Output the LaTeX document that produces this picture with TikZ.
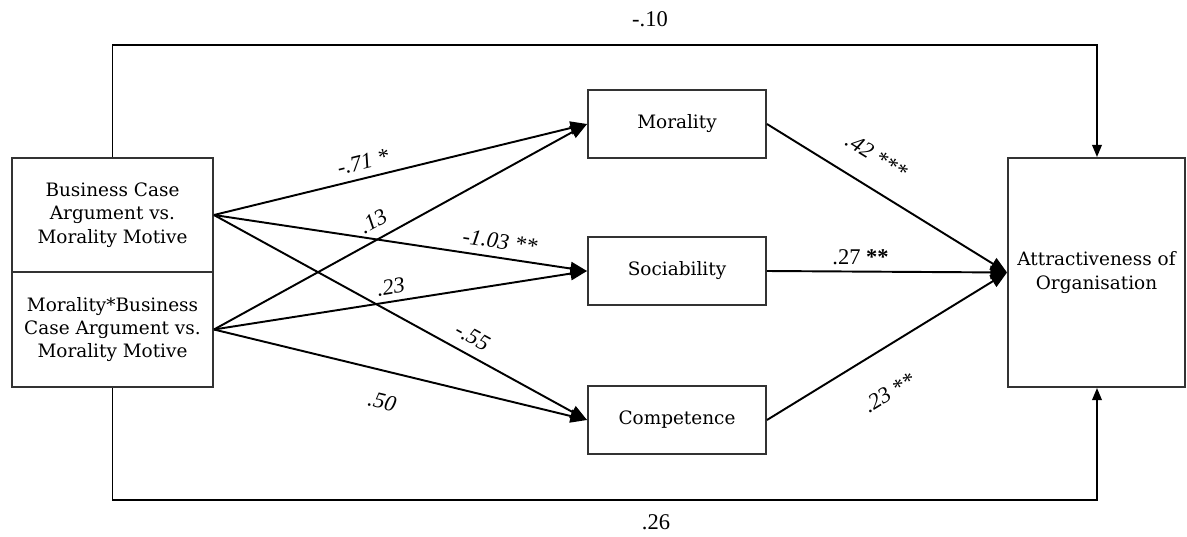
\documentclass[tikz,border=0pt]{standalone}
\usepackage{fontspec}
\setmainfont{Liberation Serif}
\newfontfamily\boxfont{DejaVu Serif}
\usetikzlibrary{arrows.meta}

\begin{document}
\begin{tikzpicture}[x=0.02cm, y=-0.02cm,
  var/.style={draw=black!80, line width=1.1pt, align=center, inner sep=0pt,
    font=\boxfont\fontsize{10.5}{13.3}\selectfont},
  coef/.style={font=\itshape\fontsize{12.8}{14}\selectfont, sloped},
  plain/.style={font=\fontsize{12.8}{14}\selectfont},
  >={Triangle[length=9.5pt,width=7.5pt]}]
\useasboundingbox (0,0) rectangle (1187,537);
% variables
\node[var, minimum width=4.02cm, minimum height=2.28cm] (bc) at (112.5,215)
  {Business Case\\Argument vs.\\Morality Motive};
\node[var, minimum width=4.02cm, minimum height=2.3cm] (mbc) at (112.5,329.5)
  {Morality*Business\\Case Argument vs.\\Morality Motive};
\node[var, minimum width=3.56cm, minimum height=1.36cm] (mor) at (677,124) {Morality};
\node[var, minimum width=3.56cm, minimum height=1.36cm] (soc) at (677,271) {Sociability};
\node[var, minimum width=3.56cm, minimum height=1.36cm] (com) at (677,420) {Competence};
\node[var, minimum width=3.54cm, minimum height=4.58cm] (att) at (1096.5,272.5)
  {Attractiveness of\\Organisation};
% paths
\path[->, line width=1.1pt]
(bc.east) edge node[coef, pos=0.41, above=1pt] {-.71 *} (mor.west)
(mbc.east) edge node[coef, pos=0.45, above=2pt] {.13} (mor.west)
(bc.east) edge node[coef, pos=0.76, above=1pt] {-1.03 **} (soc.west)
(mbc.east) edge node[coef, pos=0.48, above=0pt] {.23} (soc.west)
(bc.east) edge node[coef, pos=0.67, above=2pt] {-.55} (com.west)
(mbc.east) edge node[coef, pos=0.47, below=9pt] {.50} (com.west)
(mor.east) edge node[coef, pos=0.39, above=9pt] {.42 ***} (att.west)
(soc.east) edge node[plain, pos=0.39, above=0pt] {.27 \textbf{**}} (att.west)
(com.east) edge node[coef, pos=0.42, below=15pt] {.23 **} (att.west);
% direct effects
\coordinate (tl) at (112.5,45);
\coordinate (tr) at (1097,45);
\coordinate (bl) at (112.5,500);
\coordinate (br) at (1097,500);
\draw[->, line width=1.1pt, >={Triangle[length=7pt,width=5.5pt]}]
  (bc.north) -- (tl) -- (tr) -- (tr |- att.north);
\draw[->, line width=1.1pt, >={Triangle[length=7pt,width=5.5pt]}]
  (mbc.south) -- (bl) -- (br) -- (br |- att.south);
\node[plain] (dtop) at (650,19) {-.10};
\node[plain] (dbot) at (656,522) {.26};
\end{tikzpicture}
\end{document}
